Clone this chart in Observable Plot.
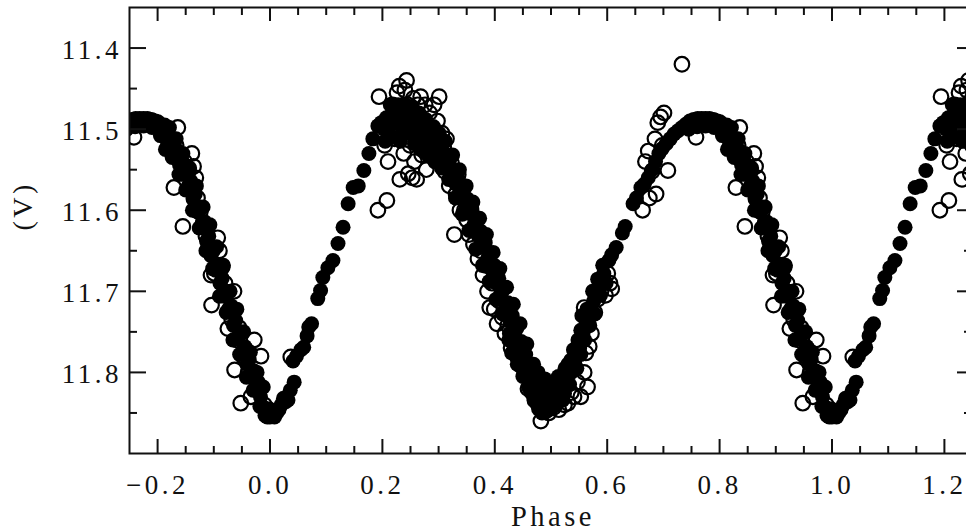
<!DOCTYPE html>
<html><head><meta charset="utf-8">
<script src="https://cdn.jsdelivr.net/npm/d3@7"></script>
<script src="https://cdn.jsdelivr.net/npm/@observablehq/plot@0.6"></script>
<style>html,body{margin:0;padding:0;background:#fff;overflow:hidden}</style>
</head><body><div id="chart"></div>
<script>
// Filled-circle data set (phase 0..1, V magnitude)
const filledPhase = [
0.000,0.004,0.008,0.012,0.016,0.020,0.024,0.028,0.032,0.036,0.043,0.041,0.047,0.055,0.060,0.066,0.069,0.074,0.085,0.090,
0.094,0.103,0.112,0.121,0.130,0.139,0.148,0.157,0.167,0.176,0.183,0.192,
0.198,0.203,0.207,0.212,0.216,0.221,0.225,0.230,0.234,0.238,0.243,0.247,0.251,0.255,0.259,0.263,0.267,0.271,0.275,0.279,
0.283,0.287,0.291,0.295,0.299,0.303,0.307,
0.205,0.214,0.219,0.228,0.232,0.241,0.245,0.253,0.257,0.265,0.269,0.277,0.281,0.289,0.293,0.301,
0.311,0.315,0.319,0.323,0.327,0.331,0.335,0.339,0.343,0.347,0.351,0.355,0.359,0.363,0.367,0.371,0.375,0.379,0.383,0.387,
0.391,0.395,0.399,0.403,0.407,0.411,0.415,0.419,0.423,0.427,0.431,0.435,0.439,0.443,0.447,0.451,0.455,0.459,0.463,0.467,
0.471,0.475,
0.305,0.312,0.318,0.325,0.330,0.337,0.342,0.349,0.354,0.361,0.366,0.373,0.378,0.385,0.390,0.397,0.402,0.409,0.414,0.421,
0.426,0.433,0.438,0.445,0.450,0.457,0.462,0.469,0.474,
0.479,0.483,0.487,0.491,0.495,0.499,0.503,0.507,0.511,0.515,0.519,0.523,0.527,0.531,0.535,0.540,0.544,0.548,0.553,0.557,
0.477,0.485,0.489,0.497,0.501,0.509,0.513,0.521,0.525,0.533,0.538,0.546,
0.425,0.430,0.435,0.440,0.445,0.450,0.455,0.460,0.465,0.470,0.478,0.484,0.492,0.500,0.506,0.516,0.524,0.530,0.536,0.542,
0.548,0.553,
0.562,0.566,0.571,0.576,0.580,0.585,0.590,0.594,0.603,0.608,0.616,0.627,0.632,0.646,0.652,0.660,0.666,0.673,0.680,0.686,
0.551,0.555,0.560,0.564,0.569,0.574,0.578,0.583,0.588,0.592,0.598,
0.692,0.698,0.705,0.712,0.719,0.726,0.733,0.740,0.747,0.754,0.761,0.768,0.775,0.782,0.789,0.796,0.802,0.807,0.811,
0.745,0.760,0.775,0.790,0.805,
0.815,0.819,0.823,0.827,0.831,0.835,0.839,0.843,0.847,0.851,0.855,0.859,0.863,0.867,0.871,0.875,0.879,0.883,0.887,0.891,
0.895,0.899,0.903,0.907,0.911,0.915,0.919,0.923,0.927,0.931,0.935,0.939,0.943,0.947,0.951,0.955,0.959,0.963,0.967,0.971,
0.975,0.979,0.983,0.987,0.991,0.995,
0.814,0.821,0.826,0.833,0.838,0.845,0.850,0.857,0.862,0.869,0.874,0.881,0.886,0.893,0.898,0.905,0.910,0.917,0.922,0.929,
0.934,0.941,0.946,0.953,0.958,0.965,0.970,0.977,0.982,0.988,0.993,0.999
];
const filledMag = [
11.855,11.852,11.855,11.850,11.846,11.840,11.832,11.836,11.834,11.822,11.812,11.786,11.780,11.772,11.769,11.755,11.744,11.740,11.709,11.699,
11.683,11.671,11.662,11.641,11.621,11.592,11.572,11.570,11.551,11.530,11.512,11.496,
11.492,11.500,11.486,11.495,11.482,11.490,11.480,11.494,11.483,11.500,11.486,11.478,11.495,11.485,11.502,11.490,11.505,11.496,11.510,11.500,
11.515,11.507,11.522,11.515,11.530,11.522,11.538,
11.515,11.470,11.510,11.470,11.515,11.470,11.505,11.472,11.518,11.480,11.525,11.488,11.532,11.498,11.540,11.505,
11.530,11.548,11.540,11.558,11.552,11.568,11.562,11.580,11.574,11.592,11.586,11.604,11.598,11.618,11.612,11.632,11.626,11.646,11.640,11.660,
11.654,11.674,11.668,11.690,11.684,11.704,11.698,11.720,11.714,11.736,11.730,11.752,11.746,11.768,11.762,11.782,11.778,11.798,11.805,11.812,
11.808,11.820,
11.548,11.515,11.562,11.532,11.585,11.550,11.605,11.570,11.625,11.590,11.648,11.610,11.668,11.630,11.688,11.652,11.710,11.672,11.728,11.695,
11.752,11.716,11.772,11.740,11.795,11.765,11.820,11.790,11.832,
11.826,11.818,11.830,11.822,11.834,11.826,11.830,11.820,11.828,11.816,11.822,11.808,11.812,11.796,11.785,11.772,11.778,11.760,11.748,11.752,
11.800,11.838,11.808,11.842,11.812,11.840,11.805,11.834,11.795,11.815,11.790,11.795,
11.760,11.776,11.770,11.790,11.784,11.805,11.800,11.818,11.825,11.835,11.845,11.850,11.848,11.845,11.838,11.835,11.826,11.790,11.800,11.788,
11.772,11.778,
11.735,11.740,11.720,11.712,11.700,11.694,11.688,11.678,11.662,11.655,11.646,11.628,11.620,11.592,11.585,11.572,11.568,11.560,11.550,11.540,
11.770,11.730,11.760,11.722,11.742,11.700,11.728,11.685,11.705,11.668,11.690,
11.530,11.524,11.518,11.512,11.506,11.502,11.498,11.494,11.490,11.488,11.487,11.487,11.487,11.487,11.488,11.490,11.494,11.500,11.496,
11.500,11.497,11.496,11.498,11.508,
11.512,11.504,11.522,11.515,11.532,11.526,11.544,11.538,11.556,11.550,11.570,11.564,11.586,11.580,11.602,11.596,11.620,11.614,11.638,11.632,
11.656,11.650,11.674,11.668,11.690,11.684,11.706,11.700,11.724,11.718,11.742,11.736,11.758,11.752,11.774,11.768,11.790,11.784,11.804,11.798,
11.816,11.812,11.830,11.842,11.853,11.855,
11.525,11.498,11.535,11.512,11.556,11.530,11.575,11.548,11.600,11.570,11.622,11.596,11.650,11.618,11.672,11.645,11.706,11.668,11.726,11.700,
11.760,11.722,11.778,11.750,11.806,11.775,11.822,11.800,11.842,11.818,11.852,11.845
];
// Open-circle data set (phase 0..1, V magnitude)
const openPhase = [
0.192,0.208,0.194,0.199,0.204,0.210,0.213,0.218,0.222,0.226,0.230,0.231,0.234,0.238,0.240,0.243,0.245,0.246,0.249,0.251,
0.253,0.255,0.257,0.259,0.261,0.263,0.266,0.268,0.270,0.273,0.276,0.278,0.281,0.284,0.287,0.290,0.292,0.295,0.298,0.301,
0.303,0.306,0.309,0.311,0.314,0.317,0.319,0.323,0.326,0.328,0.331,0.335,0.338,0.342,0.346,0.350,0.354,0.358,0.362,0.366,
0.370,0.375,0.379,0.383,0.387,0.391,0.395,0.399,0.404,0.408,0.413,0.418,0.423,0.429,0.435,0.441,0.447,0.453,0.459,0.465,
0.471,0.476,0.482,0.487,0.491,0.496,0.500,0.505,0.509,0.514,0.519,0.524,0.530,0.536,0.541,0.547,0.553,0.559,0.565,0.562,
0.568,0.556,0.559,0.565,0.572,0.578,0.583,0.589,0.594,0.597,0.601,0.605,0.608,
0.663,0.675,0.687,0.708,0.668,0.673,0.680,0.685,0.690,0.695,0.701,0.698,0.733,0.758,0.790,0.800,0.812,
0.829,0.833,0.836,0.845,0.848,0.855,0.861,0.864,0.868,0.871,0.876,0.881,0.886,0.891,0.895,0.896,0.901,0.907,0.910,0.915,
0.920,0.925,0.928,0.932,0.936,0.937,0.941,0.945,0.948,0.952,0.957,0.961,0.966,0.972,0.976,0.984,0.990,0.037
];
const openMag = [
11.600,11.588,11.460,11.505,11.520,11.540,11.488,11.470,11.512,11.455,11.447,11.562,11.500,11.530,11.452,11.440,11.470,11.555,11.520,11.490,
11.560,11.462,11.540,11.500,11.562,11.470,11.515,11.460,11.532,11.490,11.470,11.550,11.510,11.480,11.530,11.498,11.470,11.520,11.490,11.460,
11.540,11.505,11.522,11.552,11.512,11.534,11.570,11.542,11.560,11.630,11.580,11.556,11.600,11.576,11.600,11.612,11.630,11.602,11.642,11.622,
11.660,11.650,11.680,11.668,11.700,11.720,11.690,11.722,11.740,11.712,11.732,11.752,11.742,11.770,11.762,11.782,11.792,11.802,11.820,11.815,
11.832,11.838,11.860,11.846,11.840,11.850,11.836,11.843,11.834,11.846,11.830,11.840,11.838,11.825,11.830,11.812,11.830,11.800,11.818,11.776,
11.768,11.760,11.720,11.742,11.752,11.726,11.710,11.700,11.687,11.705,11.678,11.690,11.697,
11.600,11.585,11.580,11.551,11.540,11.527,11.552,11.512,11.492,11.485,11.480,11.520,11.420,11.510,11.490,11.492,11.496,
11.572,11.520,11.498,11.620,11.540,11.552,11.530,11.546,11.560,11.585,11.602,11.615,11.632,11.645,11.680,11.717,11.678,11.634,11.650,11.670,
11.690,11.746,11.722,11.735,11.700,11.797,11.760,11.745,11.838,11.780,11.772,11.800,11.830,11.760,11.820,11.780,11.840,11.781
];
const xTicks = [-0.2, 0.0, 0.2, 0.4, 0.6, 0.8, 1.0, 1.2];
const xTickLabels = ["\u22120.2", "0.0", "0.2", "0.4", "0.6", "0.8", "1.0", "1.2"];
const xMinor = [-0.15, -0.1, -0.05, 0.05, 0.1, 0.15, 0.25, 0.3, 0.35, 0.45, 0.5, 0.55, 0.65, 0.7, 0.75, 0.85, 0.9, 0.95, 1.05, 1.1, 1.15];
const yTicks = [11.4, 11.5, 11.6, 11.7, 11.8];
const yTickLabels = ["11.4", "11.5", "11.6", "11.7", "11.8"];
const yMinor = [11.45, 11.55, 11.65, 11.75, 11.85];

// phase-fold: each observation is shown at p-1, p and p+1 inside the window
function fold(ph, mag) {
  const rows = [];
  for (const s of [-1, 0, 1]) {
    ph.forEach((p, i) => {
      const q = p + s;
      if (q > -0.27 && q < 1.27) rows.push({phase: q, mag: mag[i]});
    });
  }
  return rows;
}
const filled = fold(filledPhase, filledMag);
const open = fold(openPhase, openMag);

const W = 966, H = 531, mL = 129, mR = -6, mT = 7, mB = 78;
const fw = W - mL - mR, fh = H - mT - mB;
const ink = "#111";
const chart = Plot.plot({
  width: W, height: H,
  marginLeft: mL, marginRight: mR, marginTop: mT, marginBottom: mB,
  x: {domain: [-0.25, 1.25], axis: null},
  y: {domain: [11.35, 11.9], reverse: true, axis: null},
  style: {fontFamily: "'Liberation Serif', serif", background: "white", color: ink, letterSpacing: "3.5px"},
  marks: [
    Plot.dot(filled, {x: "phase", y: "mag", r: 7.5, fill: "black", stroke: "none", clip: true}),
    Plot.dot(open, {x: "phase", y: "mag", r: 7.3, fill: "none", stroke: "black", strokeWidth: 2.2, clip: true}),
    Plot.frame({stroke: ink, strokeWidth: 2}),
    Plot.ruleX(xTicks, {x: d => d, insetTop: fh - 14, stroke: ink, strokeWidth: 2}),
    Plot.ruleX(xTicks, {x: d => d, insetBottom: fh - 14, stroke: ink, strokeWidth: 2}),
    Plot.ruleX(xMinor, {x: d => d, insetTop: fh - 7, stroke: ink, strokeWidth: 2}),
    Plot.ruleX(xMinor, {x: d => d, insetBottom: fh - 8, stroke: ink, strokeWidth: 2}),
    Plot.ruleY(yTicks, {y: d => d, insetRight: fw - 17, stroke: ink, strokeWidth: 2}),
    Plot.ruleY(yTicks, {y: d => d, insetLeft: fw - 15, stroke: ink, strokeWidth: 2}),
    Plot.ruleY(yMinor, {y: d => d, insetRight: fw - 8, stroke: ink, strokeWidth: 2}),
    Plot.ruleY(yMinor, {y: d => d, insetLeft: fw - 8, stroke: ink, strokeWidth: 2}),
    Plot.axisX(xTicks, {label: null, tickSize: 0, tickPadding: 21, fontSize: 27, fill: ink,
      tickFormat: d => xTickLabels[xTicks.indexOf(d)]}),
    Plot.axisY(yTicks, {label: null, tickSize: 0, tickPadding: 7.5, fontSize: 27, fill: ink, dy: 2,
      tickFormat: d => yTickLabels[yTicks.indexOf(d)]}),
    Plot.text(["Phase"], {text: d => d, frameAnchor: "bottom", dy: 72, dx: 2, lineAnchor: "bottom", fontSize: 28.5, fill: ink}),
    Plot.text(["(V)"], {text: d => d, frameAnchor: "left", dx: -106, rotate: -90, fontSize: 28, fill: ink})
  ]
});
document.getElementById("chart").appendChild(chart);
</script>
</body></html>
